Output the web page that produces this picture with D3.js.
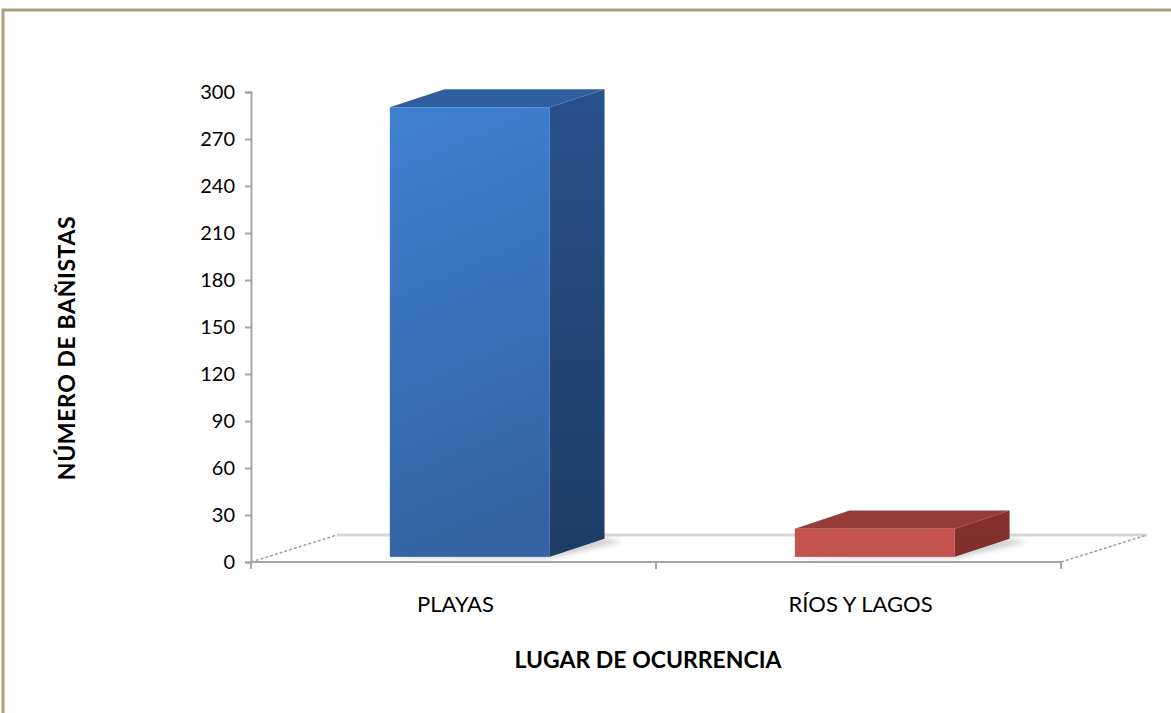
<!DOCTYPE html>
<html>
<head>
<meta charset="utf-8">
<style>
  body { margin: 0; background: #fff; }
  svg { display: block; font-family: Lato, "Open Sans", sans-serif; }
</style>
</head>
<body>
<script src="https://cdn.jsdelivr.net/npm/d3@7"></script>
<script>
// data
const categories = ["PLAYAS", "RÍOS Y LAGOS"];
const values = [287, 18];
const yTicks = [0, 30, 60, 90, 120, 150, 180, 210, 240, 270, 300];
const yTitle = "NÚMERO DE BAÑISTAS";
const xTitle = "LUGAR DE OCURRENCIA";

const W = 1171, H = 713;
const plotL = 251, plotR = 1061, plotT = 92, base = 562;

// oblique depth of the floor and bar position inside it
const depth = { dx: 86, dy: -27 };
const f0 = 0.19, f1 = 0.86;
const barFrac = 0.395;

const svg = d3.select("body").append("svg")
  .attr("width", W)
  .attr("height", H);

// outer frame
svg.append("path")
  .attr("d", `M3,${H} L3,10 L${W},10`)
  .attr("fill", "none")
  .attr("stroke", "#a89c82")
  .attr("stroke-width", 3);

const x = d3.scaleBand().domain(categories).range([plotL, plotR]);
const y = d3.scaleLinear().domain([0, 300]).range([base, plotT]);

const defs = svg.append("defs");
const palettes = [
  { front: ["#3f81d1", "#3464a4"], side: ["#28528c", "#1e3c66"], top: "#2f5f9f" },
  { front: ["#c4524f", "#c4524f"], side: ["#86302f", "#7c2e2d"], top: "#953d3b" }
];
palettes.forEach((p, i) => {
  const g1 = defs.append("linearGradient").attr("id", "front" + i)
    .attr("x1", 0).attr("y1", 0).attr("x2", 0.15).attr("y2", 1);
  g1.append("stop").attr("offset", "0%").attr("stop-color", p.front[0]);
  g1.append("stop").attr("offset", "100%").attr("stop-color", p.front[1]);
  const g2 = defs.append("linearGradient").attr("id", "side" + i)
    .attr("x1", 0).attr("y1", 0).attr("x2", 0).attr("y2", 1);
  g2.append("stop").attr("offset", "0%").attr("stop-color", p.side[0]);
  g2.append("stop").attr("offset", "100%").attr("stop-color", p.side[1]);
});
const blur = defs.append("filter").attr("id", "soft")
  .attr("x", "-20%").attr("y", "-50%").attr("width", "140%").attr("height", "200%");
blur.append("feGaussianBlur").attr("stdDeviation", 2.5);

// floor
const floor = svg.append("g");
floor.append("line")
  .attr("x1", plotL + depth.dx).attr("x2", plotR + depth.dx)
  .attr("y1", base + depth.dy).attr("y2", base + depth.dy)
  .attr("stroke", "#d8d8d8").attr("stroke-width", 3);
[plotL, plotR].forEach(px => {
  floor.append("line")
    .attr("x1", px).attr("y1", base)
    .attr("x2", px + depth.dx).attr("y2", base + depth.dy)
    .attr("stroke", "#9a9a9a").attr("stroke-width", 1.5)
    .attr("stroke-dasharray", "3,2");
});
floor.append("line")
  .attr("x1", plotL).attr("x2", plotR)
  .attr("y1", base).attr("y2", base)
  .attr("stroke", "#a6a6a6").attr("stroke-width", 2);

// category ticks
floor.selectAll(".ctick")
  .data([plotL, ...categories.map(c => x(c) + x.bandwidth())])
  .enter().append("line")
  .attr("x1", d => d).attr("x2", d => d)
  .attr("y1", base).attr("y2", base + 7)
  .attr("stroke", "#a6a6a6").attr("stroke-width", 2);

// bars
const data = categories.map((c, i) => ({ cat: c, value: values[i], i }));
const bw = x.bandwidth() * barFrac;
const ox = f0 * depth.dx, oy = f0 * depth.dy;
const bdx = (f1 - f0) * depth.dx * 0.95, bdy = (f1 - f0) * depth.dy;

const bars = svg.selectAll(".bar").data(data).enter().append("g").attr("class", "bar");

// soft shadow on the floor
bars.append("path")
  .attr("d", d => {
    const x0 = x(d.cat) + x.bandwidth() / 2 - bw / 2 + ox;
    const yb = base + oy;
    return `M${x0 - 10},${yb + 1} L${x0 + bw + 4},${yb + 1} L${x0 + bw + bdx + 18},${yb + bdy + 3} L${x0 + bw + bdx},${yb + bdy} Z`;
  })
  .attr("fill", "#9a9a9a").attr("opacity", 0.45).attr("filter", "url(#soft)");

bars.append("path")
  .attr("fill", d => palettes[d.i].top)
  .attr("d", d => {
    const x0 = x(d.cat) + x.bandwidth() / 2 - bw / 2 + ox;
    const yt = y(d.value) + oy;
    return `M${x0},${yt} L${x0 + bdx},${yt + bdy} L${x0 + bw + bdx},${yt + bdy} L${x0 + bw},${yt} Z`;
  });

bars.append("path")
  .attr("fill", d => `url(#side${d.i})`)
  .attr("d", d => {
    const x1 = x(d.cat) + x.bandwidth() / 2 + bw / 2 + ox;
    const yt = y(d.value) + oy, yb = base + oy;
    return `M${x1},${yt} L${x1 + bdx},${yt + bdy} L${x1 + bdx},${yb + bdy} L${x1},${yb} Z`;
  });

bars.append("rect")
  .attr("x", d => x(d.cat) + x.bandwidth() / 2 - bw / 2 + ox)
  .attr("y", d => y(d.value) + oy)
  .attr("width", bw)
  .attr("height", d => base - y(d.value))
  .attr("fill", d => `url(#front${d.i})`);

// y axis
const yAxis = svg.append("g")
  .attr("transform", `translate(${plotL},0)`)
  .call(d3.axisLeft(y).tickValues(yTicks).tickSize(6).tickPadding(10));
yAxis.select(".domain").attr("stroke", "#a6a6a6").attr("stroke-width", 2);
yAxis.selectAll(".tick line").attr("stroke", "#a6a6a6").attr("stroke-width", 2);
yAxis.selectAll(".tick text")
  .attr("font-size", 20).attr("fill", "#000")
  .style("font-family", "Lato, sans-serif");

// category labels
svg.selectAll(".clabel").data(categories).enter().append("text")
  .attr("x", d => x(d) + x.bandwidth() / 2 + 2)
  .attr("y", 612)
  .attr("text-anchor", "middle")
  .attr("font-size", 22)
  .attr("fill", "#000")
  .text(d => d);

// titles
svg.append("text")
  .attr("x", 648).attr("y", 668)
  .attr("text-anchor", "middle")
  .attr("font-size", 23).attr("font-weight", "bold")
  .text(xTitle);

svg.append("text")
  .attr("transform", "translate(75,348) rotate(-90)")
  .attr("text-anchor", "middle")
  .attr("font-size", 23).attr("font-weight", "bold")
  .attr("letter-spacing", 0.6)
  .text(yTitle);
</script>
</body>
</html>
